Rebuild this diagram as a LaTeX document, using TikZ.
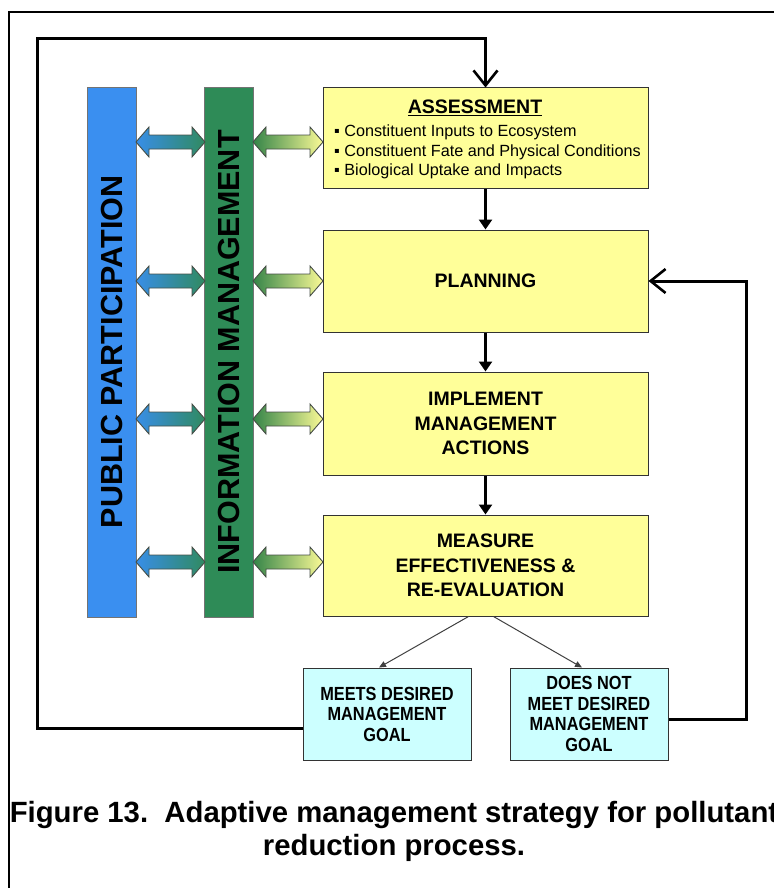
\documentclass[tikz,border=0pt]{standalone}
\usepackage{fontspec}
\setmainfont{Liberation Sans}
\newfontfamily\narrowsans[FakeStretch=0.86]{Liberation Sans}
\usetikzlibrary{arrows.meta,calc}

\definecolor{barblue}{RGB}{58,143,240}
\definecolor{bargreen}{RGB}{46,139,87}
\definecolor{boxyellow}{RGB}{255,255,153}
\definecolor{boxcyan}{RGB}{204,255,255}
\definecolor{blueL}{RGB}{56,142,232}
\definecolor{blueR}{RGB}{48,138,96}
\definecolor{greenL}{RGB}{52,132,72}
\definecolor{greenR}{RGB}{250,250,150}
\definecolor{edgegrey}{RGB}{70,78,70}

% two-headed block arrow from x=#1 to x=#2 at height #3, shaded with style #4
\newcommand\blockarrow[4]{%
  \path[blockedge,#4]
    (#1,#3) -- (#1+13,#3-15) -- (#1+13,#3-7) -- (#2-13,#3-7) -- (#2-13,#3-15)
    -- (#2,#3) -- (#2-13,#3+15) -- (#2-13,#3+7) -- (#1+13,#3+7) -- (#1+13,#3+15)
    -- cycle;}

\begin{document}
\begin{tikzpicture}[x=1pt,y=-1pt,
  stagebox/.style={draw=black!80, line width=1pt, fill=boxyellow,
    minimum width=325pt, align=center, inner sep=0pt,
    font=\fontsize{19.5}{24.5}\selectfont\bfseries},
  goalbox/.style={draw=black!80, line width=1pt, fill=boxcyan,
    minimum height=92pt, align=center, inner sep=0pt,
    font=\narrowsans\bfseries\fontsize{19}{20.5}\selectfont},
  bar/.style={rotate=90, draw=black!55, line width=0.8pt,
    minimum width=530pt, minimum height=49pt, inner sep=0pt,
    font=\fontsize{30.5}{36}\selectfont\bfseries},
  blockedge/.style={draw=edgegrey, line width=0.9pt},
  flow/.style={line width=3.5pt, -{Triangle[length=10pt,width=13pt]}},
  feedback/.style={line width=3pt, line join=miter,
    -{Straight Barb[length=15pt,width=24pt,line width=2.6pt]}},
  branch/.style={draw=black!75, line width=1pt, -{Triangle[length=7pt,width=6pt]}},
  caption/.style={anchor=base, font=\fontsize{29.3}{34}\selectfont\bfseries}
]
\useasboundingbox (0,0) rectangle (773,888);

% outer frame
\draw[line width=2pt] (9,12) rectangle (800,910);

% side bars
\node[bar, fill=barblue] (pp) at (111.5,352) {PUBLIC PARTICIPATION};
\node[bar, fill=bargreen] (im) at (229,352) {INFORMATION MANAGEMENT};

% process stages
\node[stagebox, minimum height=100pt] (assess) at (485.5,138) {};
\node (assesstitle) at (475,108) {\fontsize{19.5}{24}\selectfont\bfseries\underline{ASSESSMENT}};
\node[align=left, anchor=west, inner sep=0pt, font=\fontsize{16.2}{19.5}\selectfont]
  (assessitems) at (334,152)
  {▪ Constituent Inputs to Ecosystem\\
   ▪ Constituent Fate and Physical Conditions\\
   ▪ Biological Uptake and Impacts};
\node[stagebox, minimum height=102pt] (plan) at (485.5,281) {PLANNING};
\node[stagebox, minimum height=103pt] (impl) at (485.5,423.5)
  {IMPLEMENT\\MANAGEMENT\\ACTIONS};
\node[stagebox, minimum height=101pt] (meas) at (485.5,565.5)
  {MEASURE\\EFFECTIVENESS \&\\RE-EVALUATION};

% outcomes
\node[goalbox, minimum width=168pt] (meets) at (387,714)
  {MEETS DESIRED\\MANAGEMENT\\GOAL};
\node[goalbox, minimum width=158pt] (notmeet) at (589,714)
  {DOES NOT\\MEET DESIRED\\MANAGEMENT\\GOAL};

% two-way exchange arrows
\foreach \yy in {142,281,419,562} {
  \blockarrow{136}{205}{\yy}{left color=blueL, right color=blueR}
  \blockarrow{253}{323}{\yy}{left color=greenL, right color=greenR}
}

% main sequence
\draw[flow] (assess) -- (plan);
\draw[flow] (plan) -- (impl);
\draw[flow] (impl) -- (meas);

% evaluation outcomes
\draw[branch] ($(meas.south)+(-17,0)$) -- ($(meets.north)+(-8,0)$);
\draw[branch] ($(meas.south)+(8,0)$) -- ($(notmeet.north)+(-7,0)$);

% feedback loops
\coordinate (topleft) at (37,39);
\coordinate (rightturn) at (746,281);
\draw[feedback] ($(meets.west)+(0,14)$) -| (topleft) -| (assess.north);
\draw[feedback] ($(notmeet.east)+(0,5)$) -| (rightturn) -- (plan.east);

% caption
\node[caption] (cap1) at (394,822) {Figure 13.\ \ Adaptive management strategy for pollutant};
\node[caption] (cap2) at (394,855) {reduction process.};
\end{tikzpicture}
\end{document}
